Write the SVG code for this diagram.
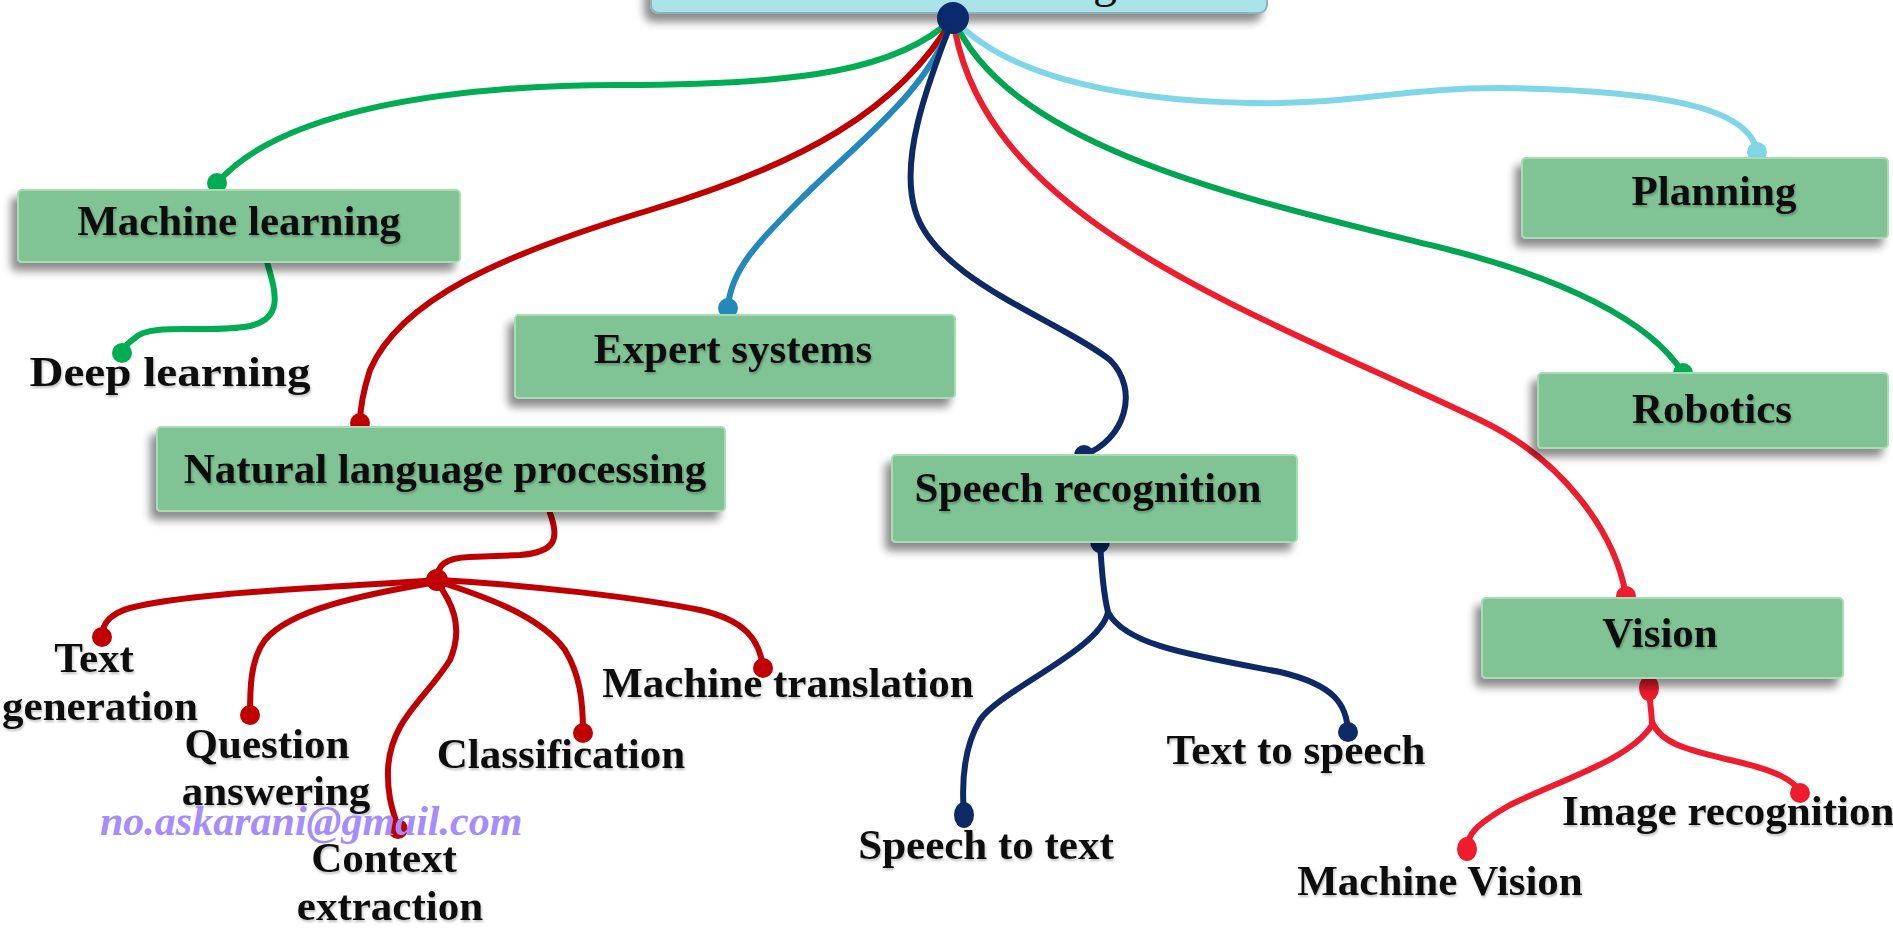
<svg xmlns="http://www.w3.org/2000/svg" width="1893" height="930" viewBox="0 0 1893 930">
<defs>
<filter id="sh" x="-10%" y="-30%" width="120%" height="170%">
<feDropShadow dx="-6" dy="8" stdDeviation="4" flood-color="#000" flood-opacity="0.45"/>
</filter>
<filter id="ts" x="-5%" y="-20%" width="110%" height="150%">
<feDropShadow dx="1" dy="2" stdDeviation="1.2" flood-color="#000" flood-opacity="0.25"/>
</filter>
</defs>
<style>
.box{fill:#80c496;stroke:#a9dcb6;stroke-width:2;filter:url(#sh)}
.lbl{font-family:"Liberation Serif","Times New Roman",serif;font-weight:bold;font-size:43px;fill:#111;text-anchor:middle;filter:url(#ts)}
.ln{fill:none;stroke-width:6;stroke-linecap:round}
.ml{stroke:#00ad52}.nlp{stroke:#c00000}.exp{stroke:#2389bd}.sp{stroke:#0d2a66}.vis{stroke:#ee1c2c}.rob{stroke:#00a552}.pl{stroke:#7fd6e6}
.wm{font-family:"Liberation Serif","Times New Roman",serif;font-weight:bold;font-style:italic;font-size:42px;fill:#a58cff}
</style>
<rect width="1893" height="930" fill="#fff"/>

<g id="root">
<rect x="651" y="-30" width="616" height="43" rx="8" fill="#a9e3e8" stroke="#8fb3b8" stroke-width="2" filter="url(#sh)"/>
<text x="1093" y="-3" font-family="Liberation Serif, serif" font-size="48" fill="#111">g</text>
</g>

<g id="connectors">
<path class="ln ml" d="M953,18 C900,70 800,85 620,85 C450,85 280,110 217,183"/>
<path class="ln ml" d="M267,262 C275,290 285,318 250,326 C210,334 150,322 135,338 C125,345 122,350 122,353"/>
<path class="ln nlp" d="M953,18 C900,110 800,165 650,210 C500,255 400,300 370,370 C362,395 360,410 360,423"/>
<path class="ln exp" d="M953,18 C930,90 860,140 800,200 C760,240 730,270 728,308"/>
<path class="ln sp" d="M953,18 C925,90 900,160 915,210 C935,280 1060,320 1110,360 C1140,390 1125,440 1084,455"/>
<path class="ln vis" d="M953,18 C980,220 1250,310 1480,420 C1560,458 1615,530 1626,596"/>
<path class="ln rob" d="M953,18 C1010,150 1250,200 1450,250 C1560,278 1650,320 1683,373"/>
<path class="ln pl" d="M953,18 C1000,70 1100,100 1250,103 C1350,105 1400,88 1500,88 C1650,90 1750,105 1757,152"/>

<path class="ln nlp" d="M550,513 C560,540 555,552 520,555 L470,557 C445,558 437,565 437,580"/>
<path class="ln nlp" d="M437,580 C330,588 190,592 130,608 C105,615 102,628 102,637"/>
<path class="ln nlp" d="M437,582 C360,595 290,610 265,640 C250,660 250,690 250,715"/>
<path class="ln nlp" d="M437,582 C450,600 465,625 450,660 C425,700 390,720 388,770 C387,800 395,815 398,829"/>
<path class="ln nlp" d="M440,582 C480,595 540,615 565,650 C580,675 583,700 583,733"/>
<path class="ln nlp" d="M440,580 C530,585 640,598 700,610 C745,620 760,640 763,668"/>

<path class="ln sp" d="M1100,541 C1102,580 1105,600 1108,612 C1100,650 1000,690 980,720 C962,750 962,790 964,815"/>
<path class="ln sp" d="M1108,612 C1125,645 1190,655 1280,672 C1335,685 1347,705 1348,732"/>

<path class="ln vis" d="M1649,688 C1650,705 1652,715 1652,725 C1630,760 1560,780 1510,805 C1475,825 1467,835 1467,849"/>
<path class="ln vis" d="M1652,722 C1662,745 1690,750 1730,760 C1775,770 1795,780 1800,793"/>

<g fill="#c00000">
<circle cx="360" cy="423" r="10"/><circle cx="437" cy="580" r="11"/>
<circle cx="102" cy="637" r="10"/><circle cx="250" cy="715" r="10"/>
<circle cx="398" cy="829" r="10"/><circle cx="583" cy="733" r="10"/><circle cx="763" cy="668" r="10"/>
</g>
<g fill="#00ad52"><circle cx="217" cy="183" r="10"/><circle cx="122" cy="353" r="10"/><circle cx="1683" cy="373" r="10"/></g>
<circle cx="728" cy="308" r="10" fill="#2389bd"/>
<circle cx="1757" cy="152" r="10" fill="#7fd6e6"/>
<g fill="#0d2a66"><circle cx="1084" cy="455" r="10"/><ellipse cx="1100" cy="541" rx="10" ry="12"/><ellipse cx="964" cy="815" rx="10" ry="13"/><circle cx="1348" cy="732" r="10"/></g>
<g fill="#ee1c2c"><circle cx="1626" cy="596" r="10"/><ellipse cx="1649" cy="688" rx="10" ry="13"/><ellipse cx="1467" cy="849" rx="10" ry="12"/><circle cx="1800" cy="793" r="10"/></g>
<circle cx="953" cy="18" r="16" fill="#0b2a6e"/>
</g>

<g id="n-ml"><rect class="box" x="18" y="190" width="442" height="72" rx="4"/><text class="lbl" x="239" y="235">Machine learning</text></g>
<g id="n-deep"><text class="lbl" x="170" y="386" textLength="281" lengthAdjust="spacingAndGlyphs">Deep learning</text></g>
<g id="n-plan"><rect class="box" x="1522" y="158" width="366" height="80" rx="4"/><text class="lbl" x="1714" y="205">Planning</text></g>
<g id="n-exp"><rect class="box" x="515" y="315" width="440" height="83" rx="4"/><text class="lbl" x="733" y="363">Expert systems</text></g>
<g id="n-rob"><rect class="box" x="1538" y="373" width="350" height="75" rx="4"/><text class="lbl" x="1712" y="423">Robotics</text></g>
<g id="n-nlp"><rect class="box" x="157" y="427" width="568" height="84" rx="4"/><text class="lbl" x="445" y="483">Natural language processing</text></g>
<g id="n-sp"><rect class="box" x="892" y="455" width="405" height="87" rx="4"/><text class="lbl" x="1088" y="502">Speech recognition</text></g>
<g id="n-vis"><rect class="box" x="1482" y="598" width="361" height="80" rx="4"/><text class="lbl" x="1660" y="647">Vision</text></g>

<g id="n-tg"><text class="lbl" x="94" y="672">Text</text><text class="lbl" x="100" y="720">generation</text></g>
<g id="n-qa"><text class="lbl" x="267" y="758">Question</text><text class="lbl" x="276" y="805">answering</text></g>
<g id="n-ce"><text class="lbl" x="384" y="872">Context</text><text class="lbl" x="390" y="920">extraction</text></g>
<g id="n-cl"><text class="lbl" x="561" y="768">Classification</text></g>
<g id="n-mt"><text class="lbl" x="788" y="697">Machine translation</text></g>
<g id="n-stt"><text class="lbl" x="986" y="859">Speech to text</text></g>
<g id="n-tts"><text class="lbl" x="1296" y="764">Text to speech</text></g>
<g id="n-mv"><text class="lbl" x="1440" y="895">Machine Vision</text></g>
<g id="n-ir"><text class="lbl" x="1562" y="825" style="text-anchor:start">Image recognition</text></g>

<text class="wm" x="100" y="835">no.askarani@gmail.com</text>
</svg>
